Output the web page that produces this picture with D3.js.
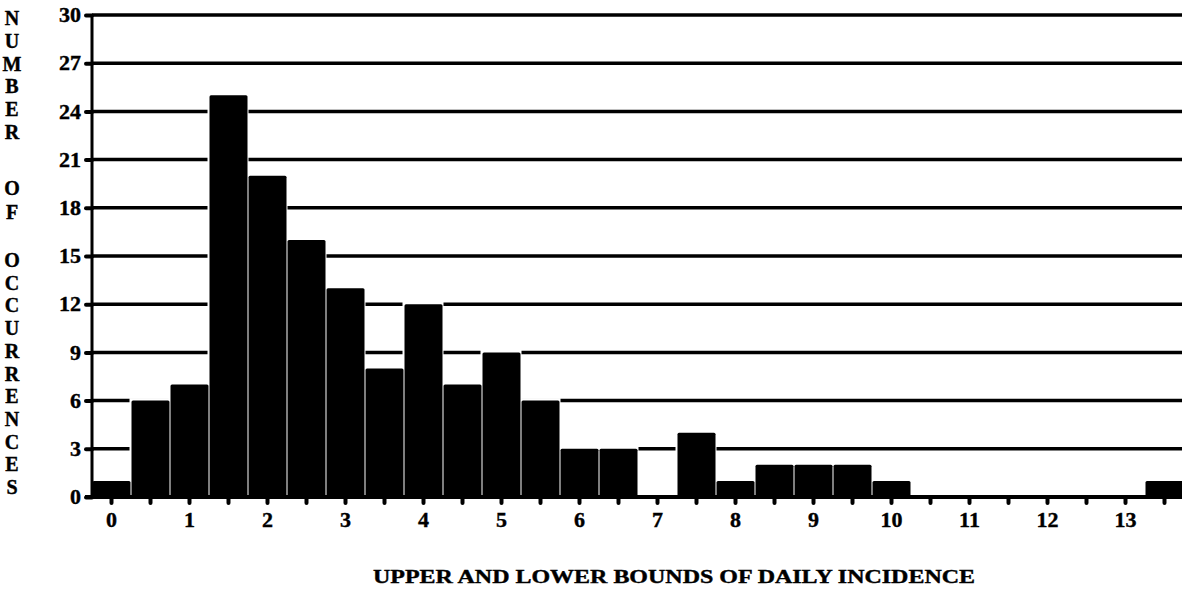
<!DOCTYPE html>
<html>
<head>
<meta charset="utf-8">
<script src="https://cdn.jsdelivr.net/npm/d3@7"></script>
<style>
  html, body { margin: 0; padding: 0; background: #fff; }
  svg { display: block; }
  text { font-family: "Liberation Serif", "DejaVu Serif", serif; font-weight: bold; fill: #000; stroke: #000; stroke-width: 0.4; }
</style>
</head>
<body>
<script>
// ---- data ----
const categories = [0, 0.5, 1, 1.5, 2, 2.5, 3, 3.5, 4, 4.5, 5, 5.5, 6, 6.5, 7, 7.5, 8, 8.5, 9, 9.5, 10, 10.5, 11, 11.5, 12, 12.5, 13, 13.5];
const counts     = [1, 6, 7, 25, 20, 16, 13, 8, 12, 7, 9, 6, 3, 3, 0, 4, 1, 2, 2, 2, 1, 0, 0, 0, 0, 0, 0, 1];
const yTicks = [0, 3, 6, 9, 12, 15, 18, 21, 24, 27, 30];
const xTickLabels = [0, 1, 2, 3, 4, 5, 6, 7, 8, 9, 10, 11, 12, 13];
const yTitleWords = ["NUMBER", "OF", "OCCURRENCES"];
const xTitle = "UPPER AND LOWER BOUNDS OF DAILY INCIDENCE";

// ---- layout ----
const W = 1182, H = 589;
const axisX = 92, baseY = 497, topY = 15;
const step = 39;

const svg = d3.select("body").append("svg").attr("width", W).attr("height", H);

const x = d3.scaleBand().domain(categories).range([axisX, axisX + step * categories.length]).padding(0);
const y = d3.scaleLinear().domain([0, 30]).range([baseY, topY]);

// gridlines
svg.append("g").selectAll("line").data(yTicks.filter(d => d > 0)).join("line")
  .attr("x1", axisX).attr("x2", W)
  .attr("y1", d => y(d)).attr("y2", d => y(d))
  .attr("stroke", "#000").attr("stroke-width", 3.5);

const data = categories.map((c, i) => ({ c, v: counts[i] })).filter(d => d.v > 0);

// white halos so gridlines break around bars
svg.append("g").selectAll("rect").data(data).join("rect")
  .attr("x", d => x(d.c) - 1.5)
  .attr("width", x.bandwidth() + 2)
  .attr("y", d => y(d.v) - 2.5)
  .attr("height", d => baseY - y(d.v) + 2.5)
  .attr("fill", "#fff");

// bars
svg.append("g").selectAll("rect").data(data).join("rect")
  .attr("x", d => x(d.c) + 0.5)
  .attr("width", x.bandwidth() - 1)
  .attr("y", d => y(d.v))
  .attr("height", d => baseY - y(d.v))
  .attr("rx", 1.5)
  .attr("fill", "#000");

// y axis line
svg.append("line").attr("x1", axisX).attr("x2", axisX).attr("y1", topY - 1).attr("y2", baseY)
  .attr("stroke", "#000").attr("stroke-width", 3);

// baseline
svg.append("line").attr("x1", 85).attr("x2", W).attr("y1", baseY).attr("y2", baseY)
  .attr("stroke", "#000").attr("stroke-width", 4);

// y ticks + labels
const yg = svg.append("g").attr("transform", `translate(${axisX},0)`)
  .call(d3.axisLeft(y).tickValues(yTicks).tickSize(6).tickPadding(6).tickFormat(d3.format("d")));
yg.select(".domain").remove();
yg.selectAll(".tick line").attr("stroke", "#000").attr("stroke-width", 4).attr("stroke-linecap", "round");
yg.selectAll(".tick text").attr("font-size", 22).attr("font-family", null).attr("dy", "0.3em").attr("x", -11);

// x ticks (every half unit)
const xg = svg.append("g").attr("transform", `translate(0,${baseY})`)
  .call(d3.axisBottom(x).tickValues(categories).tickSize(6).tickFormat(d => xTickLabels.includes(d) ? d : ""));
xg.select(".domain").remove();
xg.selectAll(".tick line").attr("stroke", "#000").attr("stroke-width", 4).attr("stroke-linecap", "round");
xg.selectAll(".tick text").attr("font-size", 22).attr("font-family", null).attr("y", 14).attr("dy", "0.71em");

// y title: stacked letters
const yTitleStarts = [18, 188, 260];
const yTitleStep = [22.8, 24, 22.7];
yTitleWords.forEach((w, wi) => {
  w.split("").forEach((ch, i) => {
    svg.append("text")
      .attr("x", 12).attr("y", yTitleStarts[wi] + i * yTitleStep[wi])
      .attr("text-anchor", "middle").attr("dy", "0.35em")
      .attr("font-size", 20)
      .text(ch);
  });
});

// x title
svg.append("text")
  .attr("x", 373).attr("y", 583)
  .attr("font-size", 19)
  .attr("textLength", 602).attr("lengthAdjust", "spacingAndGlyphs")
  .text(xTitle);
</script>
</body>
</html>
